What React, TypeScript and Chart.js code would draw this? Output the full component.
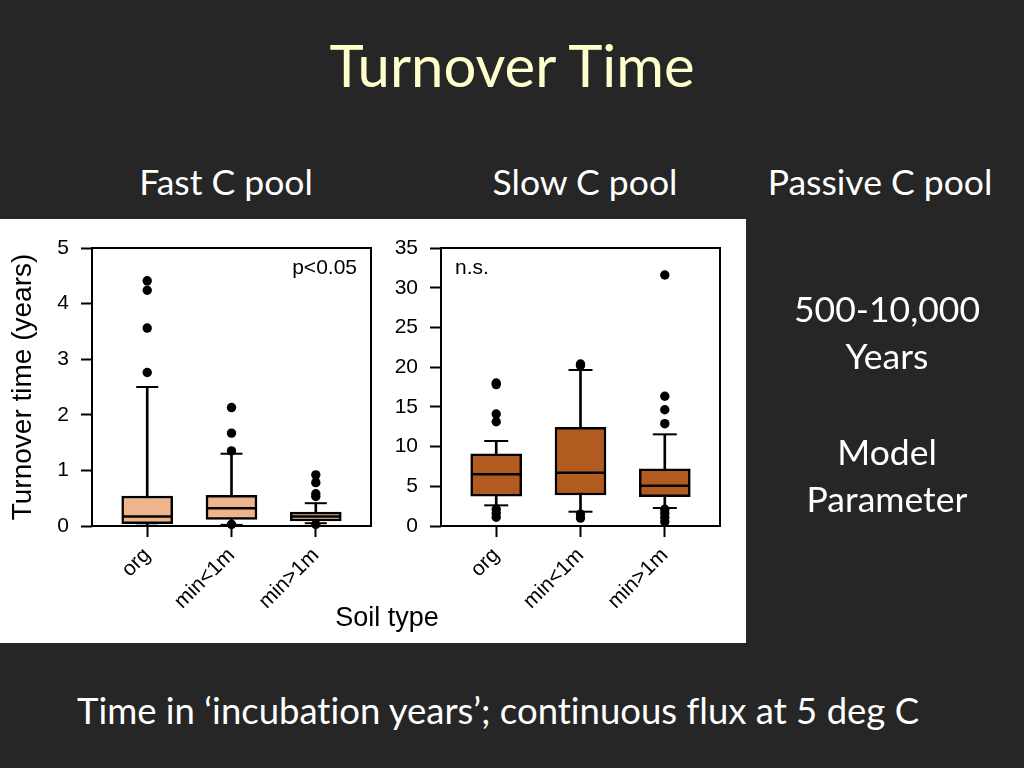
import React, { useEffect, useRef } from "react";
import { Chart, registerables } from "chart.js";

Chart.register(...registerables);

// ---------- data ----------
const categories = ["org", "min<1m", "min>1m"];
const positions = [1, 2, 3];

// Fast C pool (years)
const fastQ1 = [0.04, 0.12, 0.09];
const fastMedian = [0.17, 0.32, 0.17];
const fastQ3 = [0.54, 0.55, 0.25];
const fastLowerWhisker = [0.005, 0.02, 0.05];
const fastUpperWhisker = [2.5, 1.3, 0.41];
const fastOutliersOrg = [4.41, 4.24, 3.56, 2.76];
const fastOutliersMinLt1 = [2.13, 1.67, 1.35, 0.03];
const fastOutliersMinGt1 = [0.92, 0.78, 0.58, 0.53, 0.03];
const fastYTicks = [0, 1, 2, 3, 4, 5];

// Slow C pool (years)
const slowQ1 = [3.74, 3.9, 3.69];
const slowMedian = [6.51, 6.71, 5.08];
const slowQ3 = [9.1, 12.42, 7.21];
const slowLowerWhisker = [2.6, 1.8, 2.27];
const slowUpperWhisker = [10.7, 19.64, 11.54];
const slowOutliersOrg = [18.0, 17.8, 14.1, 13.13, 2.1, 1.6, 1.1];
const slowOutliersMinLt1 = [20.4, 20.2, 1.5, 1.0];
const slowOutliersMinGt1 = [31.6, 16.33, 14.64, 12.88, 2.1, 1.6, 1.1, 0.55];
const slowYTicks = [0, 5, 10, 15, 20, 25, 30, 35];

const AXIS_FONT = '"Liberation Sans", Arial, sans-serif';
const SLIDE_FONT = 'Lato, "Open Sans", sans-serif';
const TICK_SIZE = 21;

type BoxSpec = {
  q1: number[];
  med: number[];
  q3: number[];
  lw: number[];
  uw: number[];
  outliers: number[][];
  fill: string;
  capR: number;
};

function buildDatasets(s: BoxSpec): any[] {
  const pts = (arr: number[]) => arr.map((v, i) => ({ x: positions[i], y: v }));
  const outPts: { x: number; y: number }[] = [];
  s.outliers.forEach((arr, i) => arr.forEach((v) => outPts.push({ x: positions[i], y: v })));
  return [
    {
      type: "scatter",
      label: "outliers",
      data: outPts,
      pointStyle: "circle",
      pointRadius: 4.7,
      backgroundColor: "#000",
      borderColor: "#000",
      borderWidth: 0,
      order: 0,
      clip: false,
    },
    {
      type: "scatter",
      label: "median",
      data: pts(s.med),
      pointStyle: "line",
      pointRadius: 24,
      borderColor: "#000",
      borderWidth: 2.5,
      order: 1,
      clip: false,
    },
    {
      type: "bar",
      label: "box",
      data: s.q1.map((v, i) => ({ x: positions[i], y: [v, s.q3[i]] })),
      backgroundColor: s.fill,
      borderColor: "#000",
      borderWidth: 2.5,
      borderSkipped: false,
      barThickness: 51,
      grouped: false,
      order: 2,
    },
    {
      type: "scatter",
      label: "caps",
      data: [...pts(s.lw), ...pts(s.uw)],
      pointStyle: "line",
      pointRadius: s.capR,
      borderColor: "#000",
      borderWidth: 2,
      order: 3,
      clip: false,
    },
    {
      type: "bar",
      label: "whiskers",
      data: s.lw.map((v, i) => ({ x: positions[i], y: [v, s.uw[i]] })),
      backgroundColor: "#000",
      borderWidth: 0,
      barThickness: 2,
      grouped: false,
      order: 4,
    },
  ];
}

function framePlugin(note: string, align: "left" | "right", noteX: number, noteY: number) {
  return {
    id: "frame",
    afterDatasetsDraw(chart: any) {
      const { ctx, chartArea } = chart;
      ctx.save();
      ctx.strokeStyle = "#000";
      ctx.lineWidth = 2;
      ctx.strokeRect(chartArea.left, chartArea.top, chartArea.right - chartArea.left, chartArea.bottom - chartArea.top);
      ctx.fillStyle = "#000";
      ctx.font = `${TICK_SIZE}px ${AXIS_FONT}`;
      ctx.textAlign = align;
      ctx.textBaseline = "alphabetic";
      ctx.fillText(note, noteX, noteY);
      ctx.restore();
    },
  };
}

function makeConfig(
  spec: BoxSpec,
  yMax: number,
  yTicks: number[],
  yWidth: number,
  padRight: number,
  yTitle: string | null,
  plugin: any
): any {
  const tickFont = { family: AXIS_FONT, size: TICK_SIZE };
  return {
    type: "bar",
    data: { datasets: buildDatasets(spec) },
    plugins: [plugin],
    options: {
      responsive: false,
      animation: false,
      events: [],
      layout: { padding: { left: 0, top: 28, right: padRight, bottom: 0 }, autoPadding: false },
      plugins: { legend: { display: false }, tooltip: { enabled: false }, title: { display: false } },
      scales: {
        x: {
          type: "linear",
          min: 0.345,
          max: 3.655,
          offset: false,
          afterBuildTicks: (s: any) => {
            s.ticks = positions.map((v) => ({ value: v }));
          },
          afterFit: (s: any) => {
            s.height = 117;
          },
          border: { display: false },
          grid: {
            display: true,
            offset: false,
            drawOnChartArea: false,
            drawTicks: true,
            tickLength: 11,
            tickWidth: 2,
            tickColor: "#000",
          },
          ticks: {
            autoSkip: false,
            minRotation: 45,
            maxRotation: 45,
            padding: 6,
            color: "#000",
            font: tickFont,
            callback: (_v: any, i: number) => categories[i],
          },
        },
        y: {
          type: "linear",
          min: 0,
          max: yMax,
          afterBuildTicks: (s: any) => {
            s.ticks = yTicks.map((v) => ({ value: v }));
          },
          afterFit: (s: any) => {
            s.width = yWidth;
          },
          border: { display: false },
          grid: {
            display: true,
            drawOnChartArea: false,
            drawTicks: true,
            tickLength: 11,
            tickWidth: 2,
            tickColor: "#000",
          },
          ticks: { padding: 12, color: "#000", font: tickFont },
          title: yTitle
            ? {
                display: true,
                text: yTitle,
                color: "#000",
                font: { family: AXIS_FONT, size: 28 },
                padding: { top: 6, bottom: 0 },
              }
            : { display: false },
        },
      },
    },
  };
}

function BoxChart(props: { config: () => any; left: number; top: number; width: number; height: number }) {
  const ref = useRef<HTMLCanvasElement | null>(null);
  useEffect(() => {
    if (!ref.current) return;
    const chart = new Chart(ref.current, props.config());
    return () => chart.destroy();
  }, []);
  return (
    <canvas
      ref={ref}
      width={props.width}
      height={props.height}
      style={{ position: "absolute", left: props.left, top: props.top, width: props.width, height: props.height }}
    />
  );
}

function SlideText(props: { text: string; center?: number; left?: number; baseline: number; size: number; color?: string }) {
  const top = props.baseline - props.size * 0.887;
  const style: React.CSSProperties = {
    position: "absolute",
    top,
    fontFamily: SLIDE_FONT,
    fontSize: props.size,
    lineHeight: `${props.size}px`,
    color: props.color || "#FFFFFF",
    whiteSpace: "nowrap",
    fontVariantLigatures: "none",
  };
  if (props.center !== undefined) {
    style.left = props.center - 300;
    style.width = 600;
    style.textAlign = "center";
  } else {
    style.left = props.left;
  }
  return <div style={style}>{props.text}</div>;
}

export default function App() {
  const fastConfig = () =>
    makeConfig(
      {
        q1: fastQ1,
        med: fastMedian,
        q3: fastQ3,
        lw: fastLowerWhisker,
        uw: fastUpperWhisker,
        outliers: [fastOutliersOrg, fastOutliersMinLt1, fastOutliersMinGt1],
        fill: "#EEB48B",
        capR: 11,
      },
      5,
      fastYTicks,
      92,
      9,
      "Turnover time (years)",
      framePlugin("p<0.05", "right", 357, 54)
    );
  const slowConfig = () =>
    makeConfig(
      {
        q1: slowQ1,
        med: slowMedian,
        q3: slowQ3,
        lw: slowLowerWhisker,
        uw: slowUpperWhisker,
        outliers: [slowOutliersOrg, slowOutliersMinLt1, slowOutliersMinGt1],
        fill: "#B25B20",
        capR: 12,
      },
      35,
      slowYTicks,
      61,
      26,
      null,
      framePlugin("n.s.", "left", 75, 54)
    );

  return (
    <div
      style={{
        position: "fixed",
        left: 0,
        top: 0,
        width: 1024,
        height: 768,
        background: "#262626",
        overflow: "hidden",
      }}
    >
      <SlideText text="Turnover Time" center={512} baseline={87} size={58} color="#FFFFCC" />
      <SlideText text="Fast C pool" center={226} baseline={195} size={35.5} />
      <SlideText text="Slow C pool" center={585} baseline={195} size={35.5} />
      <SlideText text="Passive C pool" center={880} baseline={195} size={35.5} />

      <div style={{ position: "absolute", left: 0, top: 219, width: 746, height: 424, background: "#FFFFFF" }} />
      <BoxChart config={fastConfig} left={0} top={220} width={380} height={423} />
      <BoxChart config={slowConfig} left={380} top={220} width={366} height={423} />
      <div
        style={{
          position: "absolute",
          left: 187,
          width: 400,
          top: 604,
          textAlign: "center",
          fontFamily: AXIS_FONT,
          fontSize: 27,
          lineHeight: "27px",
          color: "#000",
        }}
      >
        Soil type
      </div>

      <SlideText text="500-10,000" center={887} baseline={322} size={35.5} />
      <SlideText text="Years" center={887} baseline={369} size={35.5} />
      <SlideText text="Model" center={887} baseline={465} size={35.5} />
      <SlideText text="Parameter" center={887} baseline={512} size={35.5} />

      <SlideText
        text={"Time in \u2018incubation years\u2019; continuous flux at 5 deg C"}
        left={77}
        baseline={724}
        size={36.5}
      />
    </div>
  );
}
